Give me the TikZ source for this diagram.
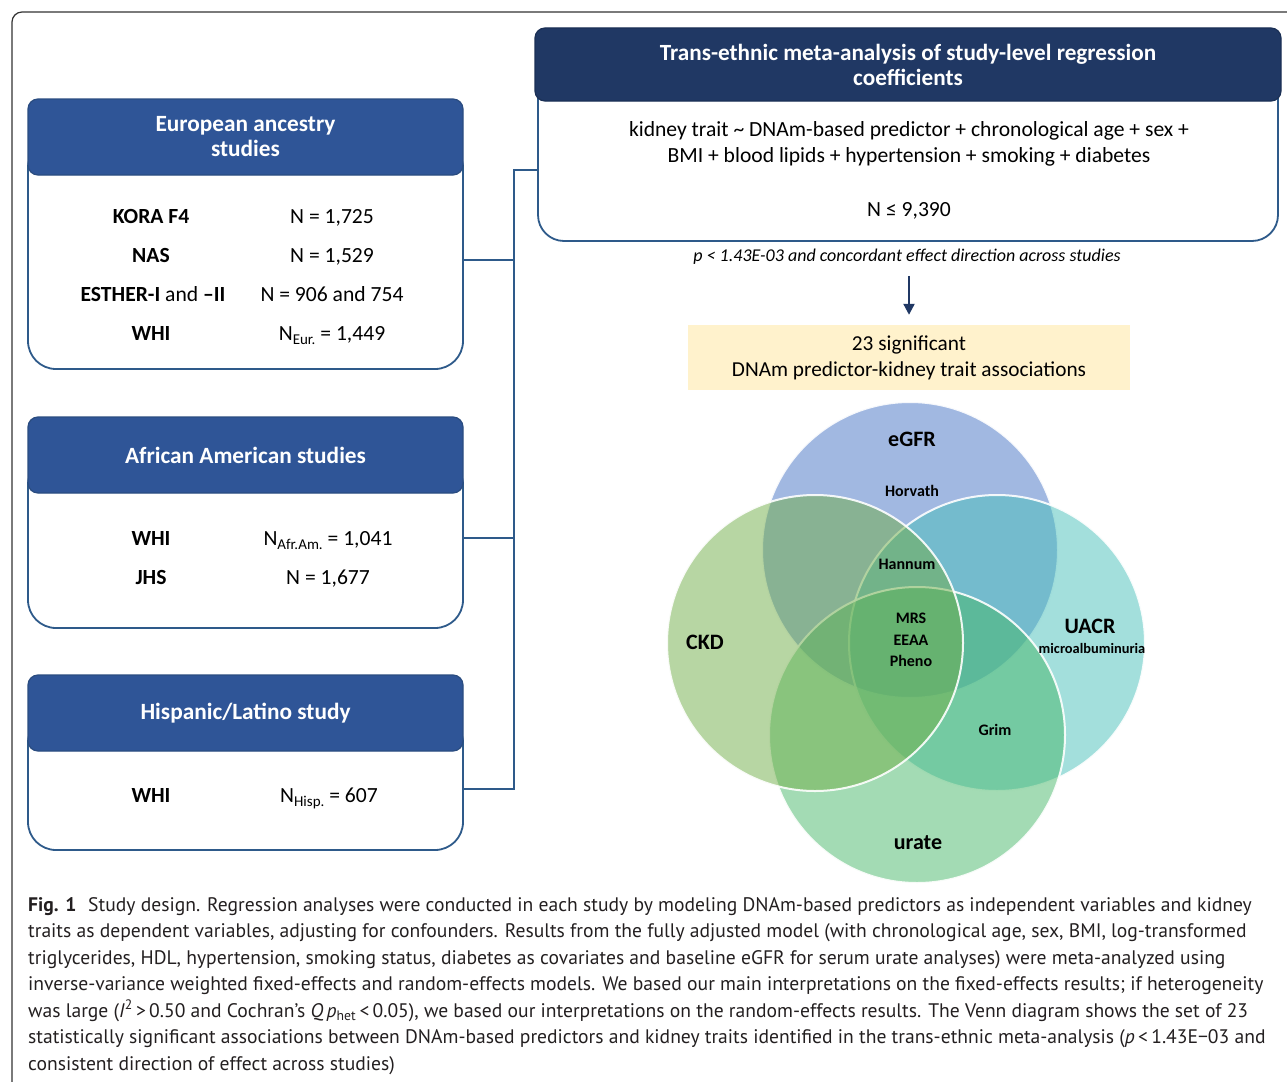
\documentclass[tikz,border=0pt]{standalone}
\usepackage{fontspec}
\setmainfont{Carlito}
\newfontfamily\capfont{PT Sans}
\usetikzlibrary{arrows.meta}
\definecolor{hdrblue}{HTML}{2F5597}
\definecolor{hdrline}{HTML}{2A4C80}
\definecolor{boxline}{HTML}{2E5A8A}
\definecolor{navy}{HTML}{203864}
\definecolor{yel}{HTML}{FFF2CC}
\definecolor{capgray}{HTML}{231F20}
\definecolor{cegfr}{RGB}{68,114,196}
\definecolor{cckd}{RGB}{112,173,71}
\definecolor{cuacr}{RGB}{71,191,185}
\definecolor{curate}{RGB}{71,183,105}
\newcommand\lowsub[1]{\raisebox{-0.45ex}{\fontsize{15}{15}\selectfont #1}}
\tikzset{
  hdrbox/.style={fill=hdrblue, draw=hdrline, line width=1.2, rounded corners=10, minimum width=435, minimum height=76, text=white, align=center, font=\fontsize{23.3}{25}\selectfont\bfseries},
  bodybox/.style={fill=white, draw=boxline, line width=1.8, rounded corners=28, minimum width=435},
  row/.style={anchor=base, font=\fontsize{21.6}{24}\selectfont, inner sep=0pt},
  brow/.style={anchor=base, font=\fontsize{21.6}{24}\selectfont\bfseries, inner sep=0pt},
  conn/.style={draw=boxline, line width=2.6},
  venn/.style={circle, minimum size=296, inner sep=0pt, fill opacity=0.5, draw=white, draw opacity=0.9, line width=2},
  big/.style={font=\fontsize{22}{24}\selectfont\bfseries, inner sep=0pt},
  small/.style={font=\fontsize{16}{18}\selectfont\bfseries, inner sep=0pt},
  capline/.style={anchor=base west, inner sep=0pt, text=capgray, font=\capfont\fontsize{19.6}{26}\selectfont},
}
\begin{document}
\begin{tikzpicture}[x=1pt,y=-1pt]
\useasboundingbox (0,0) rectangle (1287,1081);
% outer frame
\draw[black!80, line width=1.2, rounded corners=10] (12,1095) -- (12,12) -- (1300,12);

% left boxes: bodies
\node[bodybox, minimum height=229] (eub) at (245.5,254.5) {};
\node[bodybox, minimum height=171] (aab) at (245.5,542.5) {};
\node[bodybox, minimum height=135] (hib) at (245.5,782.5) {};
% headers
\node[hdrbox] (euh) at (245.5,137) {European ancestry\\studies};
\node[hdrbox] (aah) at (245.5,455) {African American studies};
\node[hdrbox] (hih) at (245.5,713) {Hispanic/Latino study};

% rows
\node[brow] (r1a) at (151,223) {KORA F4};
\node[row]  (r1b) at (332,223) {N = 1,725};
\node[brow] (r2a) at (151,262) {NAS};
\node[row]  (r2b) at (332,262) {N = 1,529};
\node[brow] (r3a) at (153,301) {ESTHER-I \mdseries and \bfseries –II};
\node[row]  (r3b) at (332,301) {N = 906 and 754};
\node[brow] (r4a) at (151,340) {WHI};
\node[row]  (r4b) at (332,340) {N\lowsub{Eur.} = 1,449};

\node[brow] (r5a) at (151,545) {WHI};
\node[row]  (r5b) at (328,545) {N\lowsub{Afr.Am.} = 1,041};
\node[brow] (r6a) at (151,584) {JHS};
\node[row]  (r6b) at (328,584) {N = 1,677};

\node[brow] (r7a) at (151,802) {WHI};
\node[row]  (r7b) at (329,802) {N\lowsub{Hisp.} = 607};

% top box
\node[bodybox, minimum width=740, minimum height=181, rounded corners=26] (tbb) at (908,150.5) {};
\node[hdrbox, fill=navy, draw=navy!85!black, minimum width=746, minimum height=73, font=\fontsize{23.2}{25}\selectfont\bfseries] (tbh) at (908,64.5) {Trans-ethnic meta-analysis of study-level regression\\coefficients};
\node[align=center, font=\fontsize{21.6}{26}\selectfont, inner sep=0pt] (model) at (909,144) {kidney trait \textasciitilde\ DNAm-based predictor + chronological age + sex +\\BMI + blood lipids + hypertension + smoking + diabetes};
\node[row, font=\fontsize{21.6}{24}\selectfont] (nall) at (909,216) {N ≤ 9,390};

% connectors
\coordinate (jt) at (514,170);
\coordinate (j1) at (514,260);
\coordinate (j2) at (514,538);
\coordinate (j3) at (514,789);
\draw[conn] (hib.east |- j3) -- (j3) -- (jt) -- (tbb.west |- jt);
\draw[conn] (eub.east |- j1) -- (j1);
\draw[conn] (aab.east |- j2) -- (j2);

% criterion + arrow
\node[inner sep=0pt, font=\fontsize{18}{20}\selectfont\itshape] (crit) at (907,257) {p < 1.43E-03 and concordant effect direction across studies};
\node[fill=yel, minimum width=442, minimum height=65, inner sep=0pt, align=center, font=\fontsize{21.3}{26}\selectfont] (yb) at (909,357.5) {23 significant\\DNAm predictor-kidney trait associations};
\draw[draw=navy, line width=2.2, -{Triangle[length=11,width=11]}, shorten <=11, shorten >=10] (crit.south -| yb.north) -- (yb.north);

% Venn (drawing order: eGFR, UACR, urate, CKD)
\node[venn, fill=cegfr] (egfr) at (910,550) {};
\node[venn, fill=cuacr] (uacr) at (997,643) {};
\node[venn, fill=curate] (urate) at (917,735) {};
\node[venn, fill=cckd] (ckd) at (815,643) {};

\node[big] (legfr) at (912,439) {eGFR};
\node[big] (lckd) at (705,642) {CKD};
\node[big] (luacr) at (1090,626) {UACR};
\node[small, font=\fontsize{14.4}{16}\selectfont\bfseries] (lmicro) at (1092,648) {microalbuminuria};
\node[big] (lurate) at (918,843) {urate};
\node[small] (lhor) at (912,491) {Horvath};
\node[small] (lhan) at (907,564) {Hannum};
\node[small, align=center, font=\fontsize{16}{21.5}\selectfont\bfseries] (lcore) at (911,640) {MRS\\EEAA\\Pheno};
\node[small] (lgrim) at (995,730) {Grim};

% caption
\node[capline] (c1) at (28,911) {\textbf{Fig. 1}\hspace{0.6em}Study design. Regression analyses were conducted in each study by modeling DNAm-based predictors as independent variables and kidney};
\node[capline] (c2) at (28,937.5) {traits as dependent variables, adjusting for confounders. Results from the fully adjusted model (with chronological age, sex, BMI, log-transformed};
\node[capline] (c3) at (28,964) {triglycerides, HDL, hypertension, smoking status, diabetes as covariates and baseline eGFR for serum urate analyses) were meta-analyzed using};
\node[capline] (c4) at (28,990.5) {inverse-variance weighted fixed-effects and random-effects models. We based our main interpretations on the fixed-effects results; if heterogeneity};
\node[capline] (c5) at (28,1017) {was large (\textit{I}\textsuperscript{2}\,>\,0.50 and Cochran’s \textit{Q}\,\textit{p}\textsubscript{het}\,<\,0.05), we based our interpretations on the random-effects results. The Venn diagram shows the set of 23};
\node[capline] (c6) at (28,1043.5) {statistically significant associations between DNAm-based predictors and kidney traits identified in the trans-ethnic meta-analysis (\textit{p}\,<\,1.43E−03 and};
\node[capline] (c7) at (28,1070) {consistent direction of effect across studies)};
\end{tikzpicture}
\end{document}
